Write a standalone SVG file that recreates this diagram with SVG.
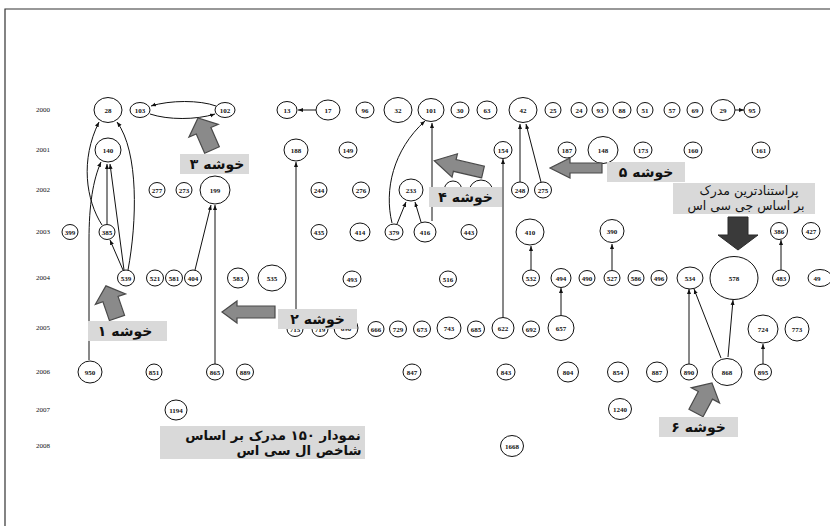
<svg xmlns="http://www.w3.org/2000/svg" width="830" height="526" viewBox="0 0 830 526">
<style>
.n ellipse{fill:#fff;stroke:#111;stroke-width:1}
.n text{font-family:"Liberation Serif",serif;font-size:7px;font-weight:bold;text-anchor:middle;fill:#111}
.yr{font-family:"Liberation Serif",serif;font-size:7px;text-anchor:middle;fill:#111}
.e path{fill:none;stroke:#111;stroke-width:1;marker-end:url(#ah)}
.box{fill:#d9d9d9}
.blk{fill:#8a8a8a;stroke:#4a4a4a;stroke-width:1.2}
.lbl{font-family:"DejaVu Sans",sans-serif;font-size:14px;font-weight:bold;fill:#111;text-anchor:middle}
.lbl2{font-family:"DejaVu Sans",sans-serif;font-size:12.5px;fill:#111;text-anchor:middle}
.lbl3{font-family:"DejaVu Sans",sans-serif;font-size:13.3px;font-weight:bold;fill:#111;text-anchor:middle}
</style>
<defs>
<marker id="ah" viewBox="0 0 10 10" refX="10" refY="5" markerWidth="5" markerHeight="5" orient="auto" markerUnits="userSpaceOnUse"><path d="M0,1 L10,5 L0,9 z" fill="#111"/></marker>
</defs>
<rect width="830" height="526" fill="#fff"/>
<path d="M5,530 L5,9 L835,9" fill="none" stroke="#333" stroke-width="1.2"/>
<g id="years">
<text class="yr" x="43" y="112">2000</text>
<text class="yr" x="43" y="152">2001</text>
<text class="yr" x="43" y="192">2002</text>
<text class="yr" x="43" y="234">2003</text>
<text class="yr" x="43" y="280">2004</text>
<text class="yr" x="43" y="330">2005</text>
<text class="yr" x="43" y="374">2006</text>
<text class="yr" x="43" y="412">2007</text>
<text class="yr" x="43" y="448">2008</text>
</g>
<g id="edges" class="e">
<path d="M216,106 C200,100 170,100 151,106"/>
<path d="M150,114 C168,120 196,120 215,114"/>
<path d="M316,110 L298,110"/>
<path d="M735,110 L744,110"/>
<path d="M102,225 C86,200 80,160 99,122"/>
<path d="M128,270 C137,222 139,152 117,122"/>
<path d="M89,360 L89,240 C89,205 93,180 101,162"/>
<path d="M107,224 L107,164"/>
<path d="M124,270 L110,164"/>
<path d="M123,270 L110,240"/>
<path d="M195,270 L211,205"/>
<path d="M215,364 L215,205"/>
<path d="M296,320 L296,162"/>
<path d="M392,223 C384,190 393,150 425,121"/>
<path d="M432,221 L432,123"/>
<path d="M397,224 L406,202"/>
<path d="M421,222 L415,202"/>
<path d="M520,182 L520,124"/>
<path d="M541,182 L526,124"/>
<path d="M503,317 L503,159"/>
<path d="M531,270 L531,246"/>
<path d="M561,315 L561,288"/>
<path d="M612,270 L612,244"/>
<path d="M781,270 L781,240"/>
<path d="M689,364 L689,289"/>
<path d="M721,358 L694,289"/>
<path d="M728,357 L733,300"/>
<path d="M763,364 L763,344"/>
</g>
<g id="nodes">
<g id="n28" class="n"><ellipse cx="108" cy="110" rx="14" ry="12.5"/><text x="108" y="112.5">28</text></g>
<g id="n103" class="n"><ellipse cx="140" cy="110" rx="10" ry="7.5"/><text x="140" y="112.5">103</text></g>
<g id="n102" class="n"><ellipse cx="225" cy="110" rx="10" ry="7.5"/><text x="225" y="112.5">102</text></g>
<g id="n13" class="n"><ellipse cx="287" cy="110" rx="10" ry="8.5"/><text x="287" y="112.5">13</text></g>
<g id="n17" class="n"><ellipse cx="328" cy="110" rx="12" ry="10"/><text x="328" y="112.5">17</text></g>
<g id="n96" class="n"><ellipse cx="365" cy="110" rx="9" ry="8"/><text x="365" y="112.5">96</text></g>
<g id="n32" class="n"><ellipse cx="398" cy="110" rx="14" ry="12.5"/><text x="398" y="112.5">32</text></g>
<g id="n101" class="n"><ellipse cx="431" cy="110" rx="13" ry="11.5"/><text x="431" y="112.5">101</text></g>
<g id="n30" class="n"><ellipse cx="460" cy="110" rx="9" ry="8"/><text x="460" y="112.5">30</text></g>
<g id="n63" class="n"><ellipse cx="487" cy="110" rx="10" ry="9"/><text x="487" y="112.5">63</text></g>
<g id="n42" class="n"><ellipse cx="523" cy="110" rx="14" ry="12.5"/><text x="523" y="112.5">42</text></g>
<g id="n25" class="n"><ellipse cx="553" cy="110" rx="8" ry="7.5"/><text x="553" y="112.5">25</text></g>
<g id="n24" class="n"><ellipse cx="579" cy="110" rx="8" ry="7.5"/><text x="579" y="112.5">24</text></g>
<g id="n93" class="n"><ellipse cx="600" cy="110" rx="8" ry="7.5"/><text x="600" y="112.5">93</text></g>
<g id="n88" class="n"><ellipse cx="622" cy="110" rx="9" ry="8"/><text x="622" y="112.5">88</text></g>
<g id="n51" class="n"><ellipse cx="645" cy="110" rx="8" ry="7.5"/><text x="645" y="112.5">51</text></g>
<g id="n57" class="n"><ellipse cx="672" cy="110" rx="8" ry="7.5"/><text x="672" y="112.5">57</text></g>
<g id="n69" class="n"><ellipse cx="695" cy="110" rx="8" ry="7.5"/><text x="695" y="112.5">69</text></g>
<g id="n29" class="n"><ellipse cx="723" cy="110" rx="12" ry="10.5"/><text x="723" y="112.5">29</text></g>
<g id="n95" class="n"><ellipse cx="752" cy="110" rx="8" ry="7.5"/><text x="752" y="112.5">95</text></g>

<g id="n140" class="n"><ellipse cx="108" cy="150" rx="13" ry="12"/><text x="108" y="152.5">140</text></g>
<g id="n188" class="n"><ellipse cx="296" cy="150" rx="12" ry="11"/><text x="296" y="152.5">188</text></g>
<g id="n149" class="n"><ellipse cx="348" cy="150" rx="9" ry="8"/><text x="348" y="152.5">149</text></g>
<g id="n154" class="n"><ellipse cx="503" cy="150" rx="9" ry="8.5"/><text x="503" y="152.5">154</text></g>
<g id="n187" class="n"><ellipse cx="567" cy="150" rx="9" ry="8"/><text x="567" y="152.5">187</text></g>
<g id="n148" class="n"><ellipse cx="603" cy="150" rx="15" ry="13.5"/><text x="603" y="152.5">148</text></g>
<g id="n173" class="n"><ellipse cx="643" cy="150" rx="9" ry="8"/><text x="643" y="152.5">173</text></g>
<g id="n160" class="n"><ellipse cx="693" cy="150" rx="9" ry="8"/><text x="693" y="152.5">160</text></g>
<g id="n161" class="n"><ellipse cx="761" cy="150" rx="9" ry="8"/><text x="761" y="152.5">161</text></g>

<g id="n277" class="n"><ellipse cx="157" cy="190" rx="8" ry="7.5"/><text x="157" y="192.5">277</text></g>
<g id="n273" class="n"><ellipse cx="184" cy="190" rx="8" ry="7.5"/><text x="184" y="192.5">273</text></g>
<g id="n199" class="n"><ellipse cx="215" cy="190" rx="15" ry="14"/><text x="215" y="192.5">199</text></g>
<g id="n244" class="n"><ellipse cx="319" cy="190" rx="8" ry="7.5"/><text x="319" y="192.5">244</text></g>
<g id="n276" class="n"><ellipse cx="361" cy="190" rx="8.5" ry="8"/><text x="361" y="192.5">276</text></g>
<g id="n233" class="n"><ellipse cx="411" cy="190" rx="12" ry="11"/><text x="411" y="192.5">233</text></g>
<g id="nh1" class="n"><ellipse cx="453" cy="189" rx="8.5" ry="8"/></g>
<g id="nh2" class="n"><ellipse cx="481" cy="192" rx="12" ry="12"/></g>
<g id="n248" class="n"><ellipse cx="520" cy="190" rx="8.5" ry="8"/><text x="520" y="192.5">248</text></g>
<g id="n275" class="n"><ellipse cx="543" cy="190" rx="8.5" ry="8"/><text x="543" y="192.5">275</text></g>
<g id="nh3" class="n"><ellipse cx="692" cy="191" rx="8" ry="7.5"/></g>

<g id="n399" class="n"><ellipse cx="70" cy="232" rx="8" ry="7.5"/><text x="70" y="234.5">399</text></g>
<g id="n385" class="n"><ellipse cx="107" cy="232" rx="8" ry="7.5"/><text x="107" y="234.5">385</text></g>
<g id="n435" class="n"><ellipse cx="319" cy="232" rx="8" ry="7.5"/><text x="319" y="234.5">435</text></g>
<g id="n414" class="n"><ellipse cx="360" cy="232" rx="10" ry="9"/><text x="360" y="234.5">414</text></g>
<g id="n379" class="n"><ellipse cx="394" cy="232" rx="9" ry="8"/><text x="394" y="234.5">379</text></g>
<g id="n416" class="n"><ellipse cx="425" cy="232" rx="11" ry="10"/><text x="425" y="234.5">416</text></g>
<g id="n443" class="n"><ellipse cx="469" cy="232" rx="8" ry="7.5"/><text x="469" y="234.5">443</text></g>
<g id="n410" class="n"><ellipse cx="530" cy="232" rx="14" ry="13"/><text x="530" y="234.5">410</text></g>
<g id="n390" class="n"><ellipse cx="612" cy="231" rx="12" ry="11.5"/><text x="612" y="233.5">390</text></g>
<g id="n386" class="n"><ellipse cx="779" cy="231" rx="8.5" ry="8.5"/><text x="779" y="233.5">386</text></g>
<g id="n427" class="n"><ellipse cx="811" cy="231" rx="9" ry="8.5"/><text x="811" y="233.5">427</text></g>

<g id="n539" class="n"><ellipse cx="126" cy="278" rx="8.5" ry="8"/><text x="126" y="280.5">539</text></g>
<g id="n521" class="n"><ellipse cx="155" cy="278" rx="8.5" ry="8"/><text x="155" y="280.5">521</text></g>
<g id="n581" class="n"><ellipse cx="174" cy="278" rx="8.5" ry="8"/><text x="174" y="280.5">581</text></g>
<g id="n404" class="n"><ellipse cx="193" cy="278" rx="8.5" ry="8"/><text x="193" y="280.5">404</text></g>
<g id="n583" class="n"><ellipse cx="238" cy="278" rx="10.5" ry="10"/><text x="238" y="280.5">583</text></g>
<g id="n535" class="n"><ellipse cx="272" cy="278" rx="14" ry="13"/><text x="272" y="280.5">535</text></g>
<g id="n493" class="n"><ellipse cx="352" cy="279" rx="9" ry="8"/><text x="352" y="281.5">493</text></g>
<g id="n516" class="n"><ellipse cx="448" cy="279" rx="8.5" ry="8"/><text x="448" y="281.5">516</text></g>
<g id="n532" class="n"><ellipse cx="531" cy="278" rx="8.5" ry="8"/><text x="531" y="280.5">532</text></g>
<g id="n494" class="n"><ellipse cx="561" cy="278" rx="10" ry="9.5"/><text x="561" y="280.5">494</text></g>
<g id="n490" class="n"><ellipse cx="587" cy="278" rx="8" ry="7.5"/><text x="587" y="280.5">490</text></g>
<g id="n527" class="n"><ellipse cx="612" cy="278" rx="8" ry="7.5"/><text x="612" y="280.5">527</text></g>
<g id="n586" class="n"><ellipse cx="636" cy="278" rx="8" ry="7.5"/><text x="636" y="280.5">586</text></g>
<g id="n496" class="n"><ellipse cx="659" cy="278" rx="8" ry="7.5"/><text x="659" y="280.5">496</text></g>
<g id="n534" class="n"><ellipse cx="690" cy="278" rx="13" ry="11"/><text x="690" y="280.5">534</text></g>
<g id="n578" class="n"><ellipse cx="734" cy="278" rx="24" ry="21.5"/><text x="734" y="280.5">578</text></g>
<g id="n483" class="n"><ellipse cx="781" cy="278" rx="8.5" ry="8"/><text x="781" y="280.5">483</text></g>
<g id="n49x" class="n"><ellipse cx="820" cy="278" rx="12" ry="8.5"/><text x="817" y="280.5">49</text></g>

<g id="n715" class="n"><ellipse cx="295" cy="329" rx="8" ry="7.5"/><text x="295" y="331.5">715</text></g>
<g id="n719" class="n"><ellipse cx="320" cy="329" rx="8" ry="7.5"/><text x="320" y="331.5">719</text></g>
<g id="n690" class="n"><ellipse cx="346" cy="328" rx="12" ry="11"/><text x="346" y="330.5">690</text></g>
<g id="n666" class="n"><ellipse cx="376" cy="329" rx="8" ry="7.5"/><text x="376" y="331.5">666</text></g>
<g id="n729" class="n"><ellipse cx="398" cy="329" rx="8.5" ry="8"/><text x="398" y="331.5">729</text></g>
<g id="n673" class="n"><ellipse cx="422" cy="329" rx="8.5" ry="8"/><text x="422" y="331.5">673</text></g>
<g id="n743" class="n"><ellipse cx="449" cy="328" rx="12" ry="11"/><text x="449" y="330.5">743</text></g>
<g id="n685" class="n"><ellipse cx="476" cy="329" rx="8.5" ry="8"/><text x="476" y="331.5">685</text></g>
<g id="n622" class="n"><ellipse cx="503" cy="328" rx="11" ry="10.5"/><text x="503" y="330.5">622</text></g>
<g id="n692" class="n"><ellipse cx="531" cy="329" rx="8.5" ry="8"/><text x="531" y="331.5">692</text></g>
<g id="n657" class="n"><ellipse cx="561" cy="328" rx="13" ry="12.5"/><text x="561" y="330.5">657</text></g>
<g id="n724" class="n"><ellipse cx="763" cy="329" rx="15" ry="14"/><text x="763" y="331.5">724</text></g>
<g id="n773" class="n"><ellipse cx="797" cy="329" rx="12" ry="12"/><text x="797" y="331.5">773</text></g>

<g id="n950" class="n"><ellipse cx="90" cy="372" rx="12" ry="11"/><text x="90" y="374.5">950</text></g>
<g id="n851" class="n"><ellipse cx="154" cy="372" rx="8" ry="8"/><text x="154" y="374.5">851</text></g>
<g id="n865" class="n"><ellipse cx="215" cy="372" rx="8.5" ry="8"/><text x="215" y="374.5">865</text></g>
<g id="n889" class="n"><ellipse cx="245" cy="372" rx="8.5" ry="8"/><text x="245" y="374.5">889</text></g>
<g id="n847" class="n"><ellipse cx="412" cy="372" rx="9" ry="8"/><text x="412" y="374.5">847</text></g>
<g id="n843" class="n"><ellipse cx="506" cy="372" rx="9" ry="8"/><text x="506" y="374.5">843</text></g>
<g id="n804" class="n"><ellipse cx="568" cy="372" rx="10.5" ry="10"/><text x="568" y="374.5">804</text></g>
<g id="n854" class="n"><ellipse cx="618" cy="372" rx="10.5" ry="10"/><text x="618" y="374.5">854</text></g>
<g id="n887" class="n"><ellipse cx="657" cy="372" rx="10.5" ry="10"/><text x="657" y="374.5">887</text></g>
<g id="n890" class="n"><ellipse cx="689" cy="372" rx="8.5" ry="8"/><text x="689" y="374.5">890</text></g>
<g id="n868" class="n"><ellipse cx="727" cy="372" rx="15" ry="13.5"/><text x="727" y="374.5">868</text></g>
<g id="n895" class="n"><ellipse cx="763" cy="372" rx="8.5" ry="8"/><text x="763" y="374.5">895</text></g>

<g id="n1194" class="n"><ellipse cx="176" cy="410" rx="11" ry="10"/><text x="176" y="412.5">1194</text></g>
<g id="n1240" class="n"><ellipse cx="620" cy="409" rx="11.5" ry="10.5"/><text x="620" y="411.5">1240</text></g>
<g id="n1668" class="n"><ellipse cx="512" cy="446" rx="11.5" ry="10.5"/><text x="512" y="448.5">1668</text></g>
</g>
<g id="callouts">
<g id="c1">
<polygon class="blk" points="0,-8 20,-8 20,-16 34,0 20,16 20,8 0,8" transform="translate(117,318) rotate(-109)"/>
<rect class="box" x="88" y="321" width="79" height="20"/>
<text class="lbl" x="125" y="336">خوشه ۱</text>
</g>
<g id="c2">
<polygon class="blk" points="0,-6 38,-6 38,-11 53,0 38,11 38,6 0,6" transform="translate(275,312) rotate(180)"/>
<rect class="box" x="278" y="309" width="79" height="20"/>
<text class="lbl" x="317.5" y="324">خوشه ۲</text>
</g>
<g id="c3">
<polygon class="blk" points="0,-8 21,-8 21,-16 35,0 21,16 21,8 0,8" transform="translate(212,150) rotate(-113.6)"/>
<rect class="box" x="180" y="154" width="69" height="20"/>
<text class="lbl" x="217" y="169">خوشه ۳</text>
</g>
<g id="c4">
<polygon class="blk" points="0,-6 29,-6 29,-12 50,0 29,12 29,6 0,6" transform="translate(483,172) rotate(193)"/>
<rect class="box" x="429" y="187" width="73" height="20"/>
<text class="lbl" x="465.5" y="202">خوشه ۴</text>
</g>
<g id="c5">
<polygon class="blk" points="0,-5 32,-5 32,-10 52,0 32,10 32,5 0,5" transform="translate(602,168) rotate(180)"/>
<rect class="box" x="607" y="162" width="78" height="20"/>
<text class="lbl" x="646" y="177">خوشه ۵</text>
</g>
<g id="c6">
<polygon class="blk" points="0,-8 20,-8 20,-16 34,0 20,16 20,8 0,8" transform="translate(696,413) rotate(-62)"/>
<rect class="box" x="659" y="417" width="79" height="20"/>
<text class="lbl" x="698.5" y="432">خوشه ۶</text>
</g>
<g id="cTop">
<rect class="box" x="673" y="183" width="142" height="31"/>
<text class="lbl2" x="749" y="195">پراستنادترین مدرک</text>
<text class="lbl2" x="746" y="210">بر اساس جی سی اس</text>
<polygon points="728,217 748,217 748,235 758,235 738,250 718,235 728,235" fill="#3a3a3a" stroke="#2a2a2a" stroke-width="1"/>
</g>
<g id="c150">
<rect class="box" x="160" y="426" width="205" height="33"/>
<text class="lbl3" x="273" y="440">نمودار ۱۵۰ مدرک بر اساس</text>
<text class="lbl3" x="299" y="455">شاخص ال سی اس</text>
</g>
</g>
</svg>
